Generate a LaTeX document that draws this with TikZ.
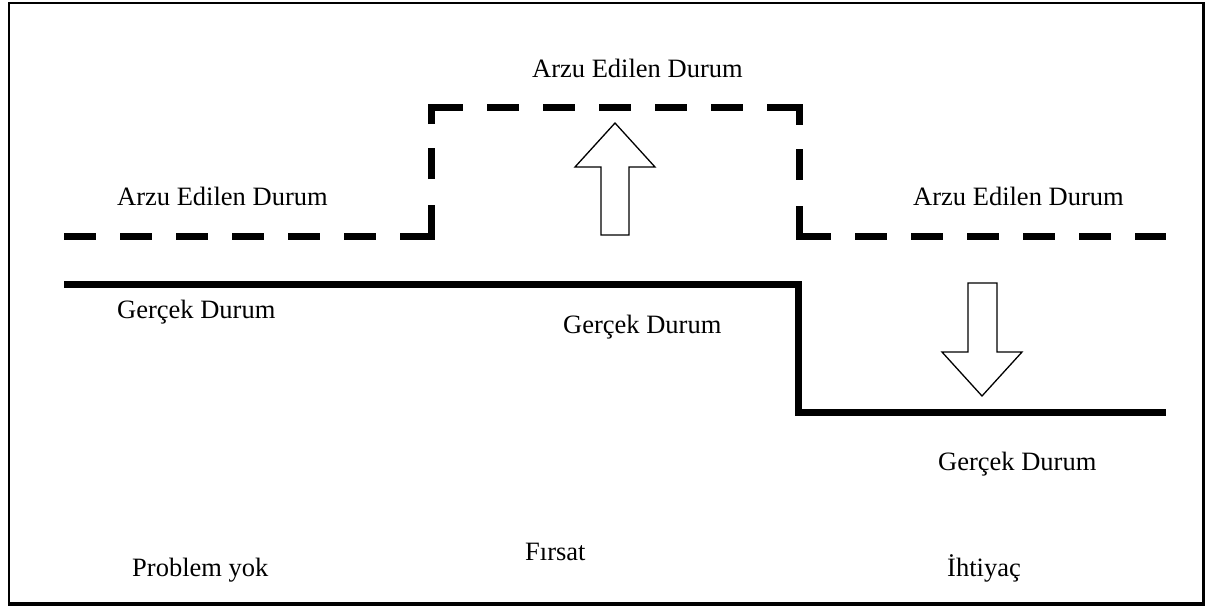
\documentclass[tikz,border=0pt]{standalone}
\usepackage{fontspec}
\setmainfont{Liberation Serif}
\begin{document}
\begin{tikzpicture}[x=1pt,y=-1pt,
  lbl/.style={anchor=base west,inner sep=0pt,font=\fontsize{26.5}{30}\selectfont},
  desired/.style={line width=7pt,dash pattern=on 32pt off 24pt},
  riser/.style={line width=7pt,dash pattern=on 31pt off 26pt on 31pt off 24pt on 18pt off 100pt},
  faller/.style={line width=7pt,dash pattern=on 18pt off 24pt on 31pt off 26pt on 31pt off 100pt},
  actual/.style={line width=7pt},
  bigarrow/.style={draw,line width=1.3pt,fill=white,line join=miter}]
\useasboundingbox (0,0) rectangle (1207,606);

% frame with heavier right and bottom edges
\draw[line width=2pt] (9,3) rectangle (1203,603);
\draw[line width=3pt] (1203.5,2) -- (1203.5,604) -- (8,604);

% desired state (dashed)
\coordinate (d1) at (64,236);
\coordinate (d2) at (431,236);
\coordinate (d3) at (431,107);
\coordinate (d4) at (799,107);
\coordinate (d5) at (799,236);
\coordinate (d6) at (1166,236);
\draw[desired] (d1) -- (d2);
\draw[riser] (d2) -- (d3);
\draw[desired] (d3) -- (d4);
\draw[faller] (d4) -- (d5);
\draw[desired] (d5) -- (d6);
\foreach \c in {d2,d3,d4,d5}
  \fill (\c) ++(-3.5,-3.5) rectangle ++(7,7);

% actual state (solid)
\coordinate (a1) at (64,284);
\coordinate (a2) at (798,284);
\coordinate (a3) at (798,412);
\coordinate (a4) at (1166,412);
\draw[actual,line join=miter] (a1) -- (a2) -- (a3) -- (a4);

% upward block arrow
\coordinate (up) at (615,123);
\draw[bigarrow] (up) -- (655,167) -- (629,167) -- (629,235) -- (601,235) -- (601,167) -- (575,167) -- cycle;

% downward block arrow
\coordinate (dn) at (982,396);
\draw[bigarrow] (dn) -- (1022,352) -- (997,352) -- (997,283) -- (968,283) -- (968,352) -- (942,352) -- cycle;

% labels
\node[lbl] (t1) at (532,77) {Arzu Edilen Durum};
\node[lbl] (t2) at (117,205) {Arzu Edilen Durum};
\node[lbl] (t3) at (913,205) {Arzu Edilen Durum};
\node[lbl] (g1) at (117,318) {Gerçek Durum};
\node[lbl] (g2) at (563,333) {Gerçek Durum};
\node[lbl] (g3) at (938,470) {Gerçek Durum};
\node[lbl] (p1) at (132,576) {Problem yok};
\node[lbl] (p2) at (525,560) {Fırsat};
\node[lbl] (p3) at (947,576) {İhtiyaç};
\end{tikzpicture}
\end{document}
